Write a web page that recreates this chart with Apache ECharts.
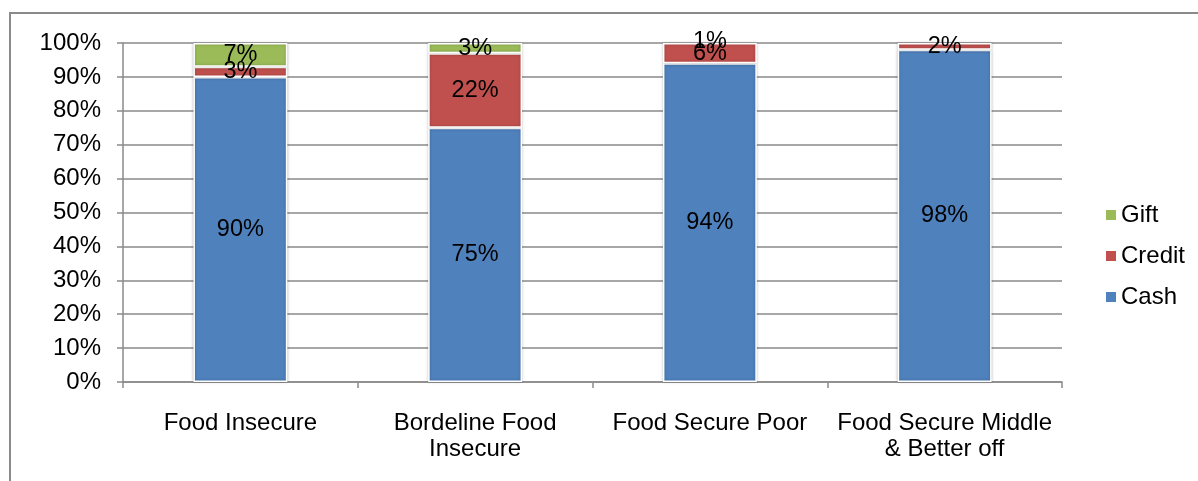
<!DOCTYPE html>
<html>
<head>
<meta charset="utf-8">
<script src="https://cdn.jsdelivr.net/npm/echarts@6/dist/echarts.min.js"></script>
<style>html,body{margin:0;padding:0;background:#fff;}#c{width:1198px;height:481px;}</style>
</head>
<body>
<div id="c"></div>
<script>
var categories = ['Food Insecure', 'Bordeline Food\nInsecure', 'Food Secure Poor', 'Food Secure Middle\n& Better off'];
var cashValues = [90, 75, 94, 98];
var creditValues = [3, 22, 6, 2];
var giftValues = [7, 3, 1, 0];
var yTicks = [0, 10, 20, 30, 40, 50, 60, 70, 80, 90, 100];

var FONT = "'Liberation Sans', Arial, sans-serif";
var AXIS_MAX = 100;
var chart = echarts.init(document.getElementById('c'));

// cumulative totals to find segments lying above the axis maximum (hidden, label kept)
function buildData(values, below) {
  return values.map(function (v, i) {
    var base = 0;
    below.forEach(function (arr) { base += arr[i]; });
    if (base >= AXIS_MAX) {
      return { value: v, itemStyle: { color: 'rgba(0,0,0,0)', borderColor: 'rgba(0,0,0,0)', shadowBlur: 0, shadowColor: 'rgba(0,0,0,0)' } };
    }
    return v;
  });
}

function mkSeries(name, data, color) {
  return {
    name: name,
    type: 'bar',
    stack: 'total',
    data: data,
    barWidth: '40%',
    clip: false,
    itemStyle: {
      color: color,
      borderColor: '#ffffff',
      borderWidth: 1.5,
      shadowBlur: 3,
      shadowColor: 'rgba(0,0,0,0.25)'
    },
    label: {
      show: true,
      position: 'inside',
      color: '#000',
      fontFamily: FONT,
      fontSize: 23.5,
      formatter: function (p) { return p.value ? p.value + '%' : ''; }
    }
  };
}

chart.setOption({
  animation: false,
  backgroundColor: '#ffffff',
  textStyle: { fontFamily: FONT },
  graphic: [{
    type: 'polyline',
    shape: { points: [[10, 481], [10, 13], [1198, 13]] },
    style: { stroke: '#8a8a8a', lineWidth: 2, fill: null }
  }],
  grid: { left: 123, right: 136, top: 43, bottom: 99, containLabel: false },
  legend: {
    orient: 'vertical',
    left: 1101,
    top: 198,
    data: ['Gift', 'Credit', 'Cash'],
    icon: 'rect',
    itemWidth: 10,
    itemHeight: 10,
    itemGap: 17,
    itemStyle: { borderWidth: 0, shadowBlur: 0 },
    textStyle: { fontFamily: FONT, fontSize: 24, color: '#000', lineHeight: 24 }
  },
  xAxis: {
    type: 'category',
    data: categories,
    axisLine: { lineStyle: { color: '#8a8a8a', width: 1.5 } },
    axisTick: { show: true, length: 6, lineStyle: { color: '#8a8a8a', width: 1.5 } },
    axisLabel: { color: '#000', fontFamily: FONT, fontSize: 24, lineHeight: 26, margin: 28, interval: 0 }
  },
  yAxis: {
    type: 'value',
    min: 0,
    max: AXIS_MAX,
    interval: 10,
    axisLine: { show: true, lineStyle: { color: '#8a8a8a', width: 1.5 } },
    axisTick: { show: true, length: 6, lineStyle: { color: '#8a8a8a', width: 1.5 } },
    splitLine: { show: true, lineStyle: { color: '#8a8a8a', width: 1.5 } },
    axisLabel: {
      color: '#000', fontFamily: FONT, fontSize: 24, margin: 22,
      formatter: function (v) { return yTicks.indexOf(v) >= 0 ? v + '%' : ''; }
    }
  },
  series: [
    mkSeries('Cash', buildData(cashValues, []), '#4F81BD'),
    mkSeries('Credit', buildData(creditValues, [cashValues]), '#C0504D'),
    mkSeries('Gift', buildData(giftValues, [cashValues, creditValues]), '#9BBB59')
  ]
});
</script>
</body>
</html>
